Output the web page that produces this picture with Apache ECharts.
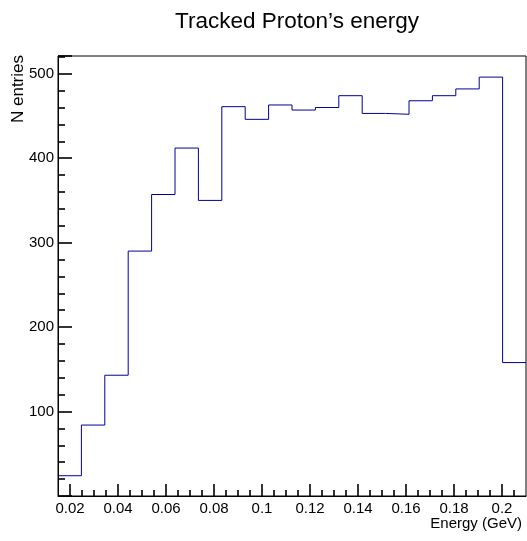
<!DOCTYPE html>
<html>
<head>
<meta charset="utf-8">
<script src="https://cdn.jsdelivr.net/npm/echarts@6/dist/echarts.min.js"></script>
<style>
html,body{margin:0;padding:0;background:#fff;}
#chart{width:527px;height:541px;}
</style>
</head>
<body>
<div id="chart"></div>
<script>
// Histogram: 20 bins from 0.015 to 0.21 GeV
const binEdges = [0.015, 0.02475, 0.0345, 0.04425, 0.054, 0.06375, 0.0735, 0.08325, 0.093, 0.10275,
                  0.1125, 0.12225, 0.132, 0.14175, 0.1515, 0.16125, 0.171, 0.18075, 0.1905, 0.20025, 0.21];
const counts = [24, 84, 143, 290, 357, 412, 350, 461, 446, 463,
                457, 460, 474, 453, 452, 468, 474, 482, 496, 158];
const xTickLabels = [0.02, 0.04, 0.06, 0.08, 0.1, 0.12, 0.14, 0.16, 0.18, 0.2];
const xMinorTicks = [0.025, 0.03, 0.035, 0.045, 0.05, 0.055, 0.065, 0.07, 0.075, 0.085, 0.09, 0.095,
                     0.105, 0.11, 0.115, 0.125, 0.13, 0.135, 0.145, 0.15, 0.155, 0.165, 0.17, 0.175,
                     0.185, 0.19, 0.195, 0.205];
const titleText = 'Tracked Proton’s energy';
const xTitle = 'Energy (GeV)';
const yTitle = 'N entries';

const stepData = counts.map((v, i) => [binEdges[i], v]);
stepData.push([binEdges[binEdges.length - 1], counts[counts.length - 1]]);

const FONT = '"Liberation Sans", Arial, sans-serif';
const TICK = {color: '#000', width: 1.6};
const chart = echarts.init(document.getElementById('chart'));
chart.setOption({
  animation: false,
  backgroundColor: '#ffffff',
  title: {
    text: titleText, left: 292, top: 5, textAlign: 'center',
    textStyle: {fontFamily: FONT, fontSize: 22.5, fontWeight: 'normal', color: '#000'}
  },
  grid: {left: 58, right: 1, top: 56, bottom: 45, show: true, borderColor: '#000', borderWidth: 1},
  xAxis: [{
    type: 'value', min: 0.015, max: 0.21,
    axisLine: {show: true, onZero: false, lineStyle: {color: '#000', width: 1}},
    splitLine: {show: false},
    axisTick: {show: true, inside: true, length: 12, customValues: xTickLabels, lineStyle: TICK},
    axisLabel: {show: true, customValues: xTickLabels, margin: 5, fontFamily: FONT, fontSize: 15, color: '#000',
                formatter: v => String(+v.toFixed(3))}
  }, {
    type: 'value', min: 0.015, max: 0.21, position: 'bottom',
    axisLine: {show: false, onZero: false},
    splitLine: {show: false},
    axisTick: {show: true, inside: true, length: 6, customValues: xMinorTicks, lineStyle: TICK},
    axisLabel: {show: false}
  }],
  yAxis: {
    type: 'value', min: 0, max: 521, interval: 100,
    axisLine: {show: true, lineStyle: {color: '#000', width: 1}},
    splitLine: {show: false},
    axisTick: {show: true, inside: true, length: 14, lineStyle: TICK},
    minorTick: {show: true, splitNumber: 5, length: 7, lineStyle: TICK},
    axisLabel: {margin: 4, fontFamily: FONT, fontSize: 15, color: '#000',
                formatter: v => ((v > 0 && v % 100 === 0) ? String(v) : '')}
  },
  series: [{
    type: 'line', step: 'end', xAxisIndex: 0, data: stepData, symbol: 'none',
    lineStyle: {color: '#000099', width: 1}
  }],
  graphic: [
    {type: 'text', x: 522, y: 516, style: {text: xTitle, fontFamily: FONT, fontSize: 15, fill: '#000', align: 'right', verticalAlign: 'top'}},
    {type: 'text', x: 18, y: 55, rotation: Math.PI / 2, style: {text: yTitle, fontFamily: FONT, fontSize: 17, fill: '#000', align: 'right', verticalAlign: 'middle'}}
  ]
});
</script>
</body>
</html>
